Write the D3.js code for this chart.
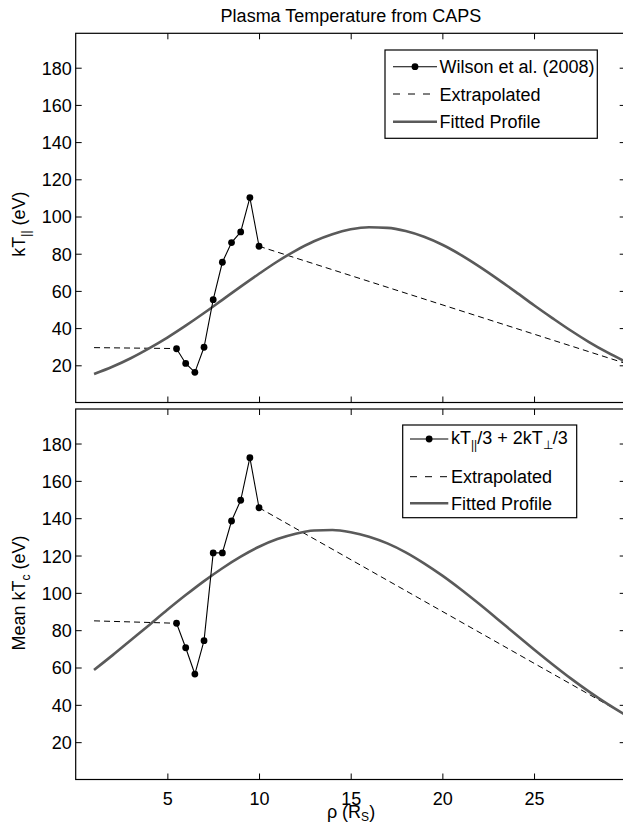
<!DOCTYPE html>
<html>
<head>
<meta charset="utf-8">
<script src="https://cdn.jsdelivr.net/npm/d3@7"></script>
<style>
  html, body { margin: 0; padding: 0; background: #fff; }
  svg { display: block; }
  text { font-family: "Liberation Sans", Arial, Helvetica, sans-serif; fill: #000; }
</style>
</head>
<body>
<script>
// ---------- data ----------
const rhoObs = [5.5, 6, 6.5, 7, 7.5, 8, 8.5, 9, 9.5, 10];
const kTpar  = [28.9, 21, 16.2, 29.7, 55.3, 75.4, 86, 91.7, 110.2, 84];
const kTmean = [83.7, 70.6, 56.5, 74.4, 121.4, 121.4, 138.5, 149.6, 172.4, 145.6];

const extrapParLeft   = [[1, 29.5], [5.5, 29]];
const extrapParRight  = [[10, 84], [30, 21]];
const extrapMeanLeft  = [[1, 85], [5.5, 83.7]];
const extrapMeanRight = [[10, 145.6], [30, 34.5]];

const rhoFit = [1,2,3,4,5,6,7,8,9,10,11,12,13,14,15,16,17,18,19,20,21,22,23,24,25,26,27,28,29,30];
const fitPar = [15.3,19.2,23.8,29.1,34.9,41.3,48.1,55.2,62.3,69.2,75.8,81.7,86.7,90.5,93.1,94.2,
                93.9,92.2,89.1,84.8,79.4,73.2,66.5,59.5,52.3,45.4,38.7,32.5,26.9,21.9];
const fitMean = [58.7,66.5,74.6,82.7,90.9,98.8,106.3,113.2,119.4,124.7,128.8,131.7,133.4,133.7,132.5,
                 130.1,126.5,121.7,115.8,109.2,101.9,94.1,86.0,77.8,69.7,61.8,54.2,47.1,40.5,34.5];

const xTicks = [5, 10, 15, 20, 25];
const yTicks = [20, 40, 60, 80, 100, 120, 140, 160, 180];
const xDomain = [0, 30];
const yDomain = [0, 198.5];

const titleText = "Plasma Temperature from CAPS";

// ---------- layout ----------
const W = 623, H = 825;
const FS = 18;
const FIT_COLOR = "#5a5a5a";
const svg = d3.select("body").append("svg").attr("width", W).attr("height", H);
svg.append("rect").attr("width", W).attr("height", H).attr("fill", "#fff");

const x = d3.scaleLinear().domain(xDomain).range([75.7, 625.7]);

function panel(top, bottom, obs, extL, extR, fit, showXLabels) {
  const y = d3.scaleLinear().domain(yDomain).range([bottom, top]);
  const g = svg.append("g");
  const tl = 6;

  // box
  g.append("rect").attr("x", x.range()[0]).attr("y", top)
    .attr("width", x.range()[1] - x.range()[0]).attr("height", bottom - top)
    .attr("fill", "none").attr("stroke", "#000").attr("stroke-width", 1.2);

  // x ticks (inward, bottom & top)
  const xb = g.append("g").attr("transform", `translate(0,${bottom})`)
    .call(d3.axisBottom(x).tickValues(xTicks).tickSizeInner(-tl).tickSizeOuter(0)
      .tickPadding(13).tickFormat(showXLabels ? d3.format("d") : () => ""));
  const xt = g.append("g").attr("transform", `translate(0,${top})`)
    .call(d3.axisTop(x).tickValues(xTicks).tickSizeInner(-tl).tickSizeOuter(0).tickFormat(() => ""));
  // y ticks (inward, left & right)
  const yl = g.append("g").attr("transform", `translate(${x.range()[0]},0)`)
    .call(d3.axisLeft(y).tickValues(yTicks).tickSizeInner(-tl).tickSizeOuter(0).tickPadding(4));
  const yr = g.append("g").attr("transform", `translate(${x.range()[1]},0)`)
    .call(d3.axisRight(y).tickValues(yTicks).tickSizeInner(-tl).tickSizeOuter(0).tickFormat(() => ""));
  [xb, xt, yl, yr].forEach(a => {
    a.select(".domain").remove();
    a.selectAll("line").attr("stroke", "#000").attr("stroke-width", 1);
    a.selectAll("text").attr("font-size", FS)
      .attr("font-family", '"Liberation Sans", Arial, Helvetica, sans-serif').attr("fill", "#000");
  });
  yl.selectAll("text").attr("dy", "0.36em");
  xb.selectAll("text").attr("dy", "0.71em");

  const line = d3.line().x(d => x(d[0])).y(d => y(d[1]));
  const smooth = d3.line().x(d => x(d[0])).y(d => y(d[1])).curve(d3.curveMonotoneX);

  const clipId = "clip" + Math.round(top);
  svg.append("clipPath").attr("id", clipId).append("rect")
    .attr("x", x.range()[0]).attr("y", top).attr("width", x.range()[1] - x.range()[0]).attr("height", bottom - top);
  const plot = g.append("g").attr("clip-path", `url(#${clipId})`);

  // extrapolated
  [extL, extR].forEach(seg => {
    plot.append("path").attr("d", line(seg)).attr("fill", "none")
      .attr("stroke", "#000").attr("stroke-width", 1).attr("stroke-dasharray", "6,4");
  });
  // fitted profile
  plot.append("path").attr("d", smooth(rhoFit.map((r, i) => [r, fit[i]])))
    .attr("fill", "none").attr("stroke", FIT_COLOR).attr("stroke-width", 2.6);
  // observations
  const pts = rhoObs.map((r, i) => [r, obs[i]]);
  plot.append("path").attr("d", line(pts)).attr("fill", "none").attr("stroke", "#000").attr("stroke-width", 1.1);
  plot.selectAll("circle.obs").data(pts).enter().append("circle").attr("class", "obs")
    .attr("cx", d => x(d[0])).attr("cy", d => y(d[1])).attr("r", 3.4).attr("fill", "#000");
  return { g, y };
}

const p1 = panel(33.3, 402.5, kTpar, extrapParLeft, extrapParRight, fitPar, false);
const p2 = panel(409, 779.5, kTmean, extrapMeanLeft, extrapMeanRight, fitMean, true);

// title
svg.append("text").attr("x", 351).attr("y", 21.5).attr("text-anchor", "middle")
  .attr("font-size", FS).text(titleText);

// x label: ρ (R_S)
const xl = svg.append("text").attr("x", 351).attr("y", 817.5).attr("text-anchor", "middle").attr("font-size", FS);
xl.append("tspan").text("ρ (R");
xl.append("tspan").attr("font-size", 12).attr("dy", 3.5).text("S");
xl.append("tspan").attr("dy", -3.5).text(")");

// y labels
const yl1 = svg.append("text").attr("transform", "translate(25,224) rotate(-90)")
  .attr("text-anchor", "middle").attr("font-size", FS);
yl1.append("tspan").text("kT");
yl1.append("tspan").attr("font-size", 12).attr("dy", 5).text("||");
yl1.append("tspan").attr("dy", -5).text(" (eV)");

const yl2 = svg.append("text").attr("transform", "translate(25,593) rotate(-90)")
  .attr("text-anchor", "middle").attr("font-size", FS);
yl2.append("tspan").text("Mean kT");
yl2.append("tspan").attr("font-size", 12).attr("dy", 5).text("c");
yl2.append("tspan").attr("dy", -5).text(" (eV)");

// legends
function legend(box, rows, lx0, lx1, tx) {
  const g = svg.append("g");
  g.append("rect").attr("x", box[0]).attr("y", box[1]).attr("width", box[2] - box[0]).attr("height", box[3] - box[1])
    .attr("fill", "#fff").attr("stroke", "#000").attr("stroke-width", 1.2);
  rows.forEach(r => {
    const ly = r.y;
    if (r.kind === "obs") {
      g.append("line").attr("x1", lx0).attr("x2", lx1).attr("y1", ly).attr("y2", ly).attr("stroke", "#000").attr("stroke-width", 1.1);
      g.append("circle").attr("cx", (lx0 + lx1) / 2).attr("cy", ly).attr("r", 3.4).attr("fill", "#000");
    } else if (r.kind === "dash") {
      g.append("line").attr("x1", lx0).attr("x2", lx1).attr("y1", ly).attr("y2", ly).attr("stroke", "#000")
        .attr("stroke-width", 1).attr("stroke-dasharray", "7,8");
    } else {
      g.append("line").attr("x1", lx0).attr("x2", lx1).attr("y1", ly).attr("y2", ly).attr("stroke", FIT_COLOR).attr("stroke-width", 2.6);
    }
    const t = g.append("text").attr("x", tx).attr("y", r.ty).attr("font-size", FS);
    r.parts.forEach(p => {
      const s = t.append("tspan").text(p.t);
      if (p.sub) s.attr("font-size", 12).attr("dy", 5);
      if (p.back) s.attr("dy", -5);
    });
  });
}

legend([385, 50, 597.3, 138.3], [
  { kind: "obs",  y: 66.7,  ty: 73.2,  parts: [{ t: "Wilson et al. (2008)" }] },
  { kind: "dash", y: 94,    ty: 100.5, parts: [{ t: "Extrapolated" }] },
  { kind: "fit",  y: 121.7, ty: 128.2, parts: [{ t: "Fitted Profile" }] }
], 393, 437, 439.5);

legend([402.7, 425, 576.7, 517.7], [
  { kind: "obs",  y: 439,   ty: 443.5, parts: [{ t: "kT" }, { t: "||", sub: true }, { t: "/3 + 2kT", back: true }, { t: "⊥", sub: true }, { t: "/3", back: true }] },
  { kind: "dash", y: 476.7, ty: 483.2, parts: [{ t: "Extrapolated" }] },
  { kind: "fit",  y: 503.3, ty: 509.8, parts: [{ t: "Fitted Profile" }] }
], 410, 448.3, 451);
</script>
</body>
</html>
